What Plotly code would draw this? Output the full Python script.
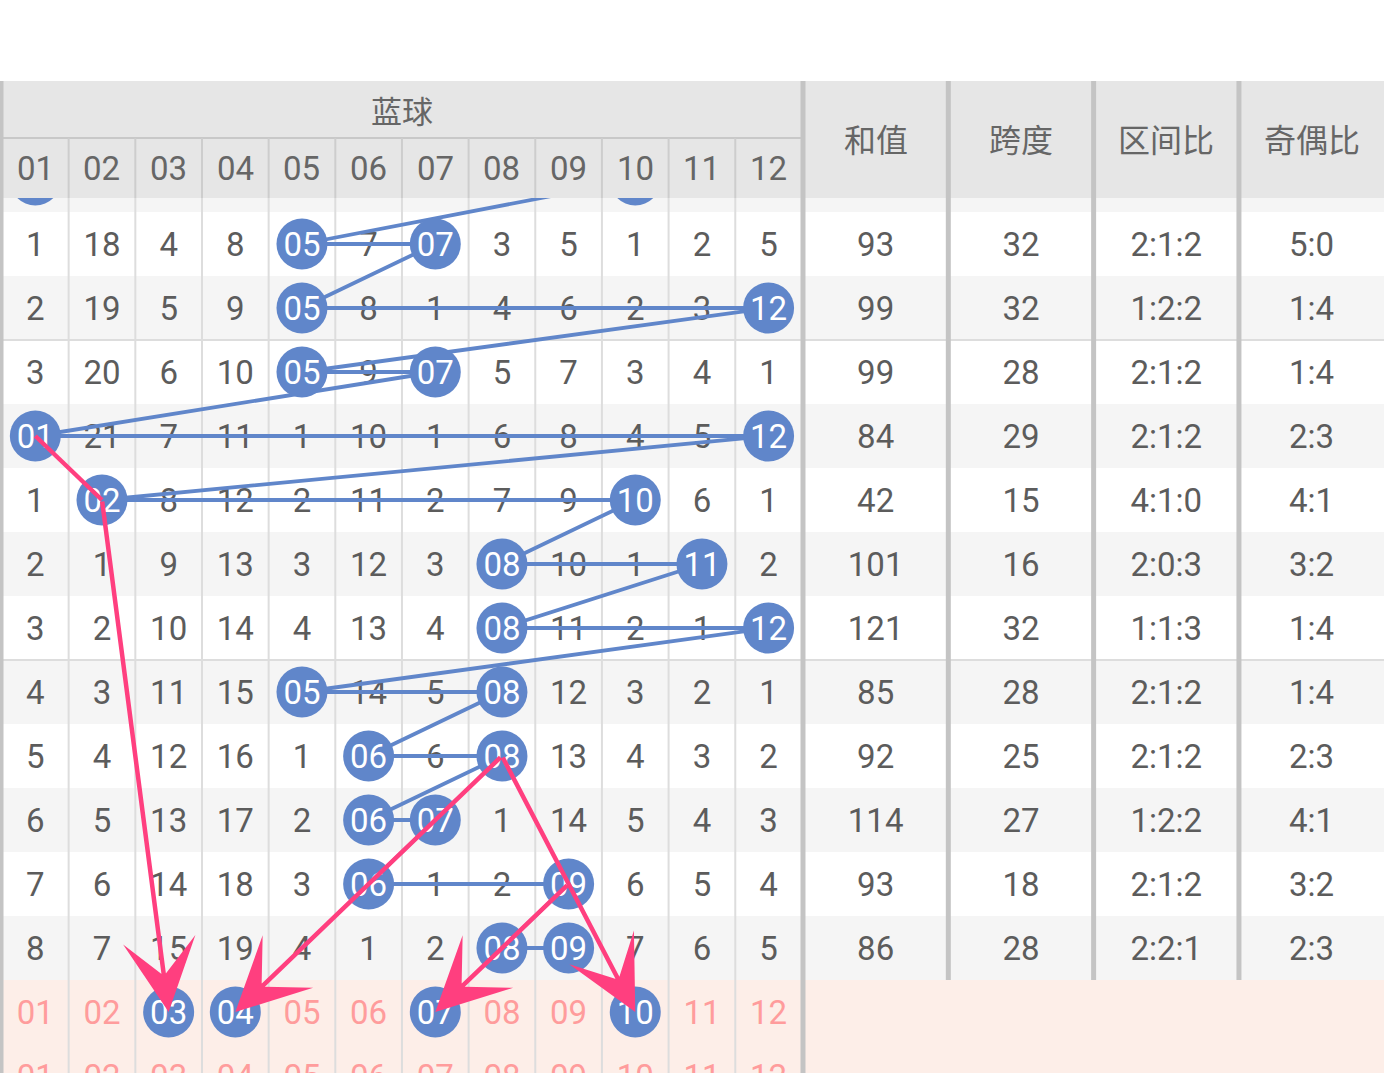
import plotly.graph_objects as go

# ---------------- data ----------------
blue_labels = [f"{i:02d}" for i in range(1, 13)]
stat_headers = ["和值", "跨度", "区间比", "奇偶比"]
group_title = "蓝球"

# omission counts per period (0 = number drawn in that period)
omission = [
    [1, 18, 4, 8, 0, 7, 0, 3, 5, 1, 2, 5],
    [2, 19, 5, 9, 0, 8, 1, 4, 6, 2, 3, 0],
    [3, 20, 6, 10, 0, 9, 0, 5, 7, 3, 4, 1],
    [0, 21, 7, 11, 1, 10, 1, 6, 8, 4, 5, 0],
    [1, 0, 8, 12, 2, 11, 2, 7, 9, 0, 6, 1],
    [2, 1, 9, 13, 3, 12, 3, 0, 10, 1, 0, 2],
    [3, 2, 10, 14, 4, 13, 4, 0, 11, 2, 1, 0],
    [4, 3, 11, 15, 0, 14, 5, 0, 12, 3, 2, 1],
    [5, 4, 12, 16, 1, 0, 6, 0, 13, 4, 3, 2],
    [6, 5, 13, 17, 2, 0, 0, 1, 14, 5, 4, 3],
    [7, 6, 14, 18, 3, 0, 1, 2, 0, 6, 5, 4],
    [8, 7, 15, 19, 4, 1, 2, 0, 0, 7, 6, 5],
]
prev_drawn = [1, 10]          # period scrolled under the header
sums = [93, 99, 99, 84, 42, 101, 121, 85, 92, 114, 93, 86]
spans = [32, 32, 28, 29, 15, 16, 32, 28, 25, 27, 18, 28]
zones = ["2:1:2", "1:2:2", "2:1:2", "2:1:2", "4:1:0", "2:0:3",
         "1:1:3", "2:1:2", "2:1:2", "1:2:2", "2:1:2", "2:2:1"]
odd_even = ["5:0", "1:4", "1:4", "2:3", "4:1", "3:2",
            "1:4", "1:4", "2:3", "4:1", "3:2", "2:3"]
forecast = [3, 4, 7, 10]
# red guide paths: (period, number) ... last point gets the arrow
red_paths = [
    [(4, 1), (5, 2), (13, 3)],
    [(9, 8), (13, 4)],
    [(9, 8), (13, 10)],
    [(11, 9), (13, 7)],
]

# ---------------- style / geometry ----------------
W, H = 1384, 1073
COLW = 66.66                       # px per blue column
XA = 0.5 - 2 / COLW
XB = XA + W / COLW
ROWH = 64.0
YTOP = 1 - 244 / ROWH
YBOT = YTOP + H / ROWH
STAT_X0 = 12.516
STAT_W = 2.18
HDR_TOP = YTOP + 81 / ROWH
HDR_MID = YTOP + 138 / ROWH
HDR_BOT = YTOP + 198 / ROWH
TEXT_DY = 0.055                    # optical centring of text in cells

BLUE = "#6086ca"
RED = "#ff3f7f"
TXT = "#5c5c5c"
HDR_TXT = "#666666"
PINK_TXT = "#ff9c9c"
PINK_BG = "#fdeee8"
STRIPE = "#f5f5f5"
HDR_BG = "#e6e6e6"
THIN = "#dddddd"
THICK = "#c4c4c4"
NUM_FONT = "Roboto"
CJK_FONT = "Noto Sans CJK SC"

n_rows = len(omission)
pink_rows = [n_rows + 1, n_rows + 2]

fig = go.Figure()
shapes = []

# row backgrounds
for r in range(0, n_rows + 1):
    if r % 2 == 0:
        shapes.append(dict(type="rect", xref="x", yref="y", x0=XA, x1=XB,
                           y0=r - 0.5, y1=r + 0.5, fillcolor=STRIPE,
                           line_width=0, layer="below"))
for r in pink_rows:
    shapes.append(dict(type="rect", xref="x", yref="y", x0=XA, x1=XB,
                       y0=r - 0.5, y1=r + 0.5, fillcolor=PINK_BG,
                       line_width=0, layer="below"))
# group separators every 5 periods
for yb in [2.5, 7.5]:
    shapes.append(dict(type="line", xref="x", yref="y", x0=XA, x1=XB,
                       y0=yb, y1=yb, line=dict(color=THIN, width=2), layer="below"))
# thin column lines
for c in range(1, 12):
    shapes.append(dict(type="line", xref="x", yref="y", x0=c + 0.5, x1=c + 0.5,
                       y0=HDR_MID, y1=YBOT, line=dict(color=THIN, width=2), layer="below"))

# header (covers the scrolled period)
shapes.append(dict(type="rect", xref="x", yref="y", x0=XA, x1=XB,
                   y0=HDR_TOP, y1=HDR_BOT, fillcolor=HDR_BG, line_width=0, layer="above"))
shapes.append(dict(type="line", xref="x", yref="y", x0=XA, x1=STAT_X0,
                   y0=HDR_MID, y1=HDR_MID, line=dict(color="#c8c8c8", width=2), layer="above"))
for c in range(1, 12):
    shapes.append(dict(type="line", xref="x", yref="y", x0=c + 0.5, x1=c + 0.5,
                       y0=HDR_MID, y1=HDR_BOT, line=dict(color="#cdcdcd", width=2), layer="above"))
# thick separators
shapes.append(dict(type="rect", xref="x", yref="y", x0=XA, x1=XA + 3.5 / COLW,
                   y0=HDR_TOP, y1=YBOT, fillcolor=THICK, line_width=0, layer="above"))
shapes.append(dict(type="line", xref="x", yref="y", x0=STAT_X0, x1=STAT_X0,
                   y0=HDR_TOP, y1=YBOT, line=dict(color=THICK, width=5), layer="above"))
for j in range(1, 4):
    xx = STAT_X0 + STAT_W * j
    shapes.append(dict(type="line", xref="x", yref="y", x0=xx, x1=xx,
                       y0=HDR_TOP, y1=n_rows + 0.5, line=dict(color=THICK, width=5), layer="above"))

# ---------------- cell numbers ----------------
cx, cy, ct = [], [], []
for r, row in enumerate(omission, start=1):
    for c, v in enumerate(row, start=1):
        if v != 0:
            cx.append(c); cy.append(r + TEXT_DY); ct.append(str(v))
fig.add_trace(go.Scatter(x=cx, y=cy, text=ct, mode="text", hoverinfo="skip",
                         textfont=dict(family=NUM_FONT, size=33, color=TXT)))

# stats columns
stat_cols = [sums, spans, zones, odd_even]
sx, sy, st = [], [], []
for j, col in enumerate(stat_cols):
    for r, v in enumerate(col, start=1):
        sx.append(STAT_X0 + STAT_W * (j + 0.5)); sy.append(r + TEXT_DY); st.append(str(v))
fig.add_trace(go.Scatter(x=sx, y=sy, text=st, mode="text", hoverinfo="skip",
                         textfont=dict(family=NUM_FONT, size=33, color=TXT)))

# pink placeholder rows
px_, py_, pt_ = [], [], []
for k, r in enumerate(pink_rows):
    for c, lab in enumerate(blue_labels, start=1):
        if k == 0 and c in forecast:
            continue
        px_.append(c); py_.append(r + TEXT_DY); pt_.append(lab)
fig.add_trace(go.Scatter(x=px_, y=py_, text=pt_, mode="text", hoverinfo="skip",
                         textfont=dict(family=NUM_FONT, size=33, color=PINK_TXT)))

# ---------------- drawn balls and link line ----------------
bx, by = [], []
for c in prev_drawn:
    bx.append(c); by.append(0)
for r, row in enumerate(omission, start=1):
    for c, v in enumerate(row, start=1):
        if v == 0:
            bx.append(c); by.append(r)
fig.add_trace(go.Scatter(x=bx, y=by, mode="lines", hoverinfo="skip",
                         line=dict(color=BLUE, width=3.8)))

ball_x = bx + forecast
ball_y = by + [n_rows + 1] * len(forecast)
fig.add_trace(go.Scatter(x=ball_x, y=ball_y, mode="markers", hoverinfo="skip",
                         marker=dict(size=51, color=BLUE, line_width=0)))
# labels of the visible balls (the first period is hidden under the header)
lab_x = [x for x, y in zip(ball_x, ball_y) if y >= 1]
lab_y = [y + TEXT_DY for y in ball_y if y >= 1]
lab_t = [blue_labels[c - 1] for c in lab_x]
fig.add_trace(go.Scatter(x=lab_x, y=lab_y, text=lab_t, mode="text", hoverinfo="skip",
                         textfont=dict(family=NUM_FONT, size=33, color="white")))

# ---------------- red guide arrows ----------------
annotations = []
for path in red_paths:
    if len(path) > 2:
        fig.add_trace(go.Scatter(x=[p[1] for p in path[:-1]], y=[p[0] for p in path[:-1]],
                                 mode="lines", hoverinfo="skip",
                                 line=dict(color=RED, width=4.5)))
    (r0, c0), (r1, c1) = path[-2], path[-1]
    annotations.append(dict(x=c1, y=r1, ax=c0, ay=r0, xref="x", yref="y",
                            axref="x", ayref="y", text="", showarrow=True,
                            arrowhead=3, arrowsize=2.7, arrowwidth=4.5,
                            arrowcolor=RED, standoff=0, startstandoff=0))

# ---------------- header texts ----------------
annotations.append(dict(x=6.5, y=(HDR_TOP + HDR_MID) / 2, xref="x", yref="y",
                        text=group_title, showarrow=False,
                        font=dict(family=CJK_FONT, size=31, color=HDR_TXT)))
for c, lab in enumerate(blue_labels, start=1):
    annotations.append(dict(x=c, y=(HDR_MID + HDR_BOT) / 2, xref="x", yref="y",
                            text=lab, showarrow=False,
                            font=dict(family=NUM_FONT, size=33, color=HDR_TXT)))
for j, lab in enumerate(stat_headers):
    annotations.append(dict(x=STAT_X0 + STAT_W * (j + 0.5), y=(HDR_TOP + HDR_BOT) / 2 - 0.03,
                            xref="x", yref="y", text=lab, showarrow=False,
                            font=dict(family=CJK_FONT, size=32, color=HDR_TXT)))

fig.update_layout(
    width=W, height=H, margin=dict(l=0, r=0, t=0, b=0),
    paper_bgcolor="white", plot_bgcolor="white", showlegend=False,
    xaxis=dict(range=[XA, XB], visible=False, fixedrange=True),
    yaxis=dict(range=[YBOT, YTOP], visible=False, fixedrange=True),
    shapes=shapes, annotations=annotations,
    font=dict(family=NUM_FONT),
)
fig.write_html("out.html", config={"displayModeBar": False},
               post_script="document.body.style.margin='0';document.body.style.overflow='hidden';")
